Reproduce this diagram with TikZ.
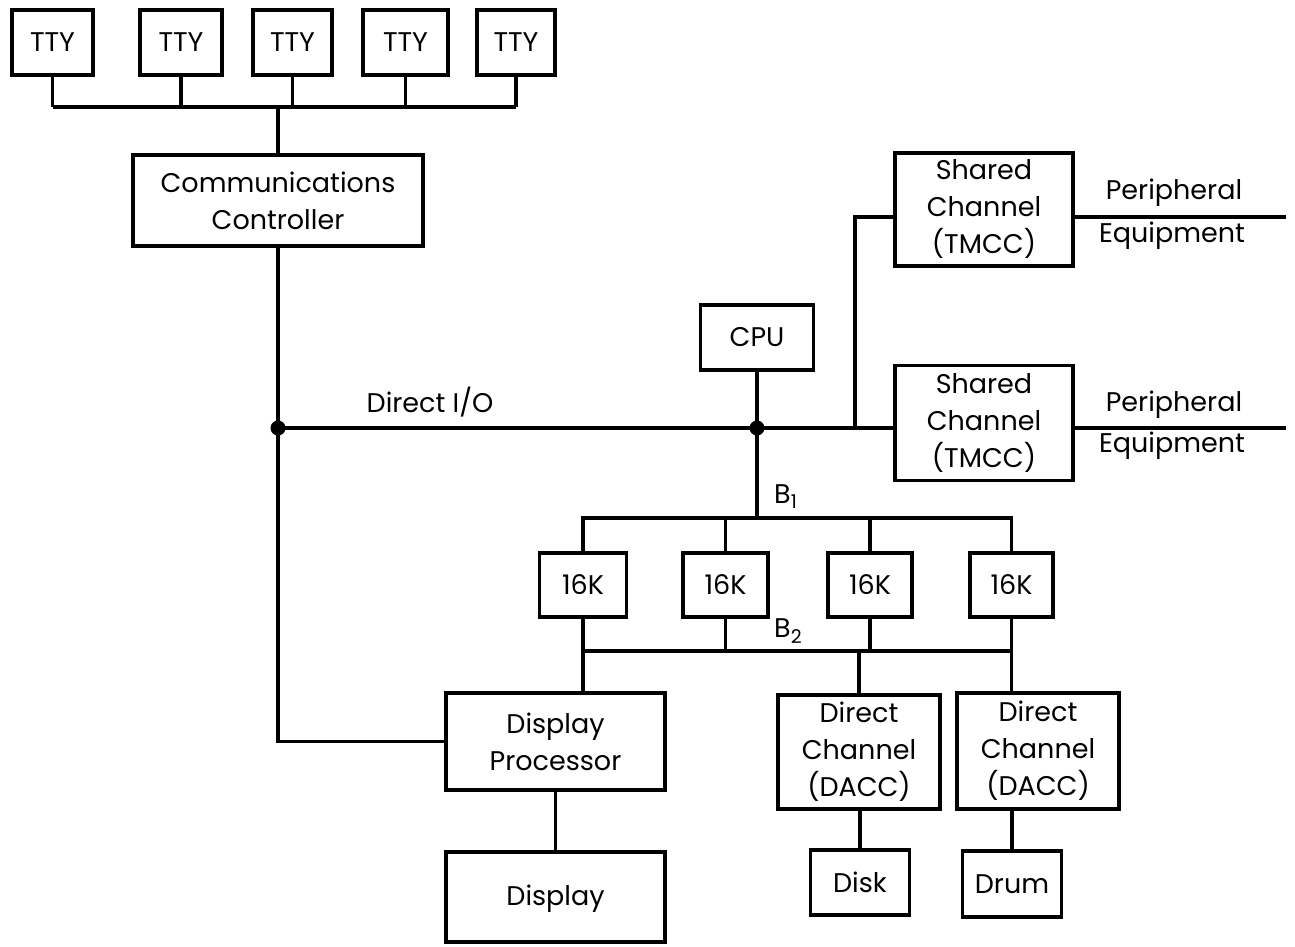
\documentclass[tikz,border=0pt]{standalone}
\usepackage{fontspec}
\setmainfont{Poppins}
\begin{document}
\begin{tikzpicture}[x=1pt,y=-1pt,
  box/.style={draw, line width=3.4pt, inner sep=0pt, align=center, font=\fontsize{27}{37}\selectfont},
  wire/.style={line width=3.2pt},
  lbl/.style={inner sep=0pt, font=\fontsize{27}{37}\selectfont},
  dot/.style={fill=black}]
\useasboundingbox[fill=white] (0,0) rectangle (1295,946);
% TTYs
\node[box, minimum width=81pt, minimum height=65pt] (t1) at (52.5,42.5) {TTY};
\node[box, minimum width=82pt, minimum height=65pt] (t2) at (181,42.5) {TTY};
\node[box, minimum width=79pt, minimum height=65pt] (t3) at (292.5,42.5) {TTY};
\node[box, minimum width=85pt, minimum height=65pt] (t4) at (405.5,42.5) {TTY};
\node[box, minimum width=78pt, minimum height=65pt] (t5) at (516,42.5) {TTY};
\coordinate (tbus) at (0,107);
% Communications controller
\node[box, minimum width=290pt, minimum height=91pt] (comm) at (278,200.5) {Communications\\Controller};
% CPU
\node[box, minimum width=113pt, minimum height=65pt] (cpu) at (757,337.5) {CPU};
% Shared channels
\node[box, minimum width=178pt, minimum height=113pt] (sc1) at (984,209.5) {Shared\\Channel\\(TMCC)};
\node[box, minimum width=178pt, minimum height=115pt] (sc2) at (984,423) {Shared\\Channel\\(TMCC)};
\coordinate (pe1) at (1286,217);
\coordinate (pe2) at (1286,428);
\node[lbl] (pl1) at (1174,193) {Peripheral};
\node[lbl] (pq1) at (1172,236) {Equipment};
\node[lbl] (pl2) at (1174,405) {Peripheral};
\node[lbl] (pq2) at (1172,446) {Equipment};
% junctions
\coordinate (j1) at (278,428);
\coordinate (j2) at (757,428);
\coordinate (br) at (855,428);
\node[lbl] (dio) at (430,402) {Direct I/O};
% memory
\coordinate (b1) at (757,518);
\coordinate (b2) at (757,651);
\node[box, minimum width=87pt, minimum height=64pt] (m1) at (583,585) {16K};
\node[box, minimum width=85pt, minimum height=64pt] (m2) at (725.5,585) {16K};
\node[box, minimum width=84pt, minimum height=64pt] (m3) at (870,585) {16K};
\node[box, minimum width=83pt, minimum height=64pt] (m4) at (1011.5,585) {16K};
\node[lbl, anchor=west] (lb1) at (774,497) {B\textsubscript{1}};
\node[lbl, anchor=west] (lb2) at (774,631) {B\textsubscript{2}};
% lower boxes
\node[box, minimum width=219pt, minimum height=97pt] (dp) at (555.5,741.5) {Display\\Processor};
\node[box, minimum width=219pt, minimum height=90pt, text depth=4pt] (disp) at (555.5,897) {Display};
\node[box, minimum width=162pt, minimum height=114pt] (dc1) at (859,752) {Direct\\Channel\\(DACC)};
\node[box, minimum width=162pt, minimum height=116pt] (dc2) at (1038,751) {Direct\\Channel\\(DACC)};
\node[box, minimum width=99pt, minimum height=65pt] (disk) at (860,882.5) {Disk};
\node[box, minimum width=99pt, minimum height=66pt] (drum) at (1012,884) {Drum};
% wires: TTY bus
\foreach \t in {t1,t2,t3,t4,t5} \draw[wire] (\t.south) -- (\t.south |- tbus);
\draw[wire] (t1.south |- tbus) -- (t5.south |- tbus);
\draw[wire] (comm.north) -- (comm.north |- tbus);
% comm controller down to display processor
\draw[wire] (comm.south) |- (dp.west);
% direct I/O
\draw[wire] (j1) -- (sc2.west |- j1);
\fill[dot] (j1) circle (7.5pt);
\draw[wire] (cpu.south) -- (b1);
\fill[dot] (j2) circle (7.5pt);
\draw[wire] (br) |- (sc1.west |- pe1);
\draw[wire] (sc1.east |- pe1) -- (pe1);
\draw[wire] (sc2.east |- pe2) -- (pe2);
% B1 bus
\draw[wire] (m1.north) -- (m1.north |- b1) -- (m4.north |- b1) -- (m4.north);
\draw[wire] (m2.north) -- (m2.north |- b1);
\draw[wire] (m3.north) -- (m3.north |- b1);
% B2 bus
\draw[wire] (m1.south) -- (m1.south |- b2) -- (m4.south |- b2) -- (m4.south);
\draw[wire] (m2.south) -- (m2.south |- b2);
\draw[wire] (m3.south) -- (m3.south |- b2);
\draw[wire] (m1.south |- b2) -- (m1.south |- dp.north);
\draw[wire] (dc1.north |- b2) -- (dc1.north);
\draw[wire] (m4.south |- b2) -- (m4.south |- dc2.north);
% lower wires
\draw[wire] (dp.south) -- (disp.north);
\draw[wire] (disk.north) -- (disk.north |- dc1.south);
\draw[wire] (drum.north) -- (drum.north |- dc2.south);
\end{tikzpicture}
\end{document}
